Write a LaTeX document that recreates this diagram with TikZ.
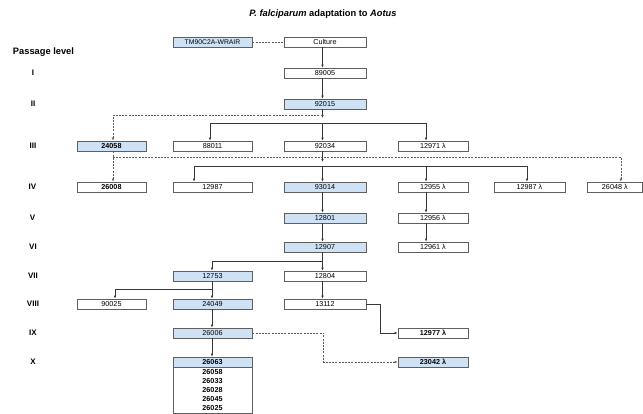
\documentclass[tikz,border=0pt]{standalone}
\usepackage{fontspec}
\setmainfont{Liberation Sans}
\usetikzlibrary{arrows.meta}
\definecolor{lblue}{RGB}{207,226,245}
\definecolor{bord}{RGB}{95,95,95}
\definecolor{ln}{RGB}{55,55,55}
\definecolor{dln}{RGB}{90,90,90}
\begin{document}
\begin{tikzpicture}[x=1pt,y=-1pt,
 pbox/.style={draw=bord, line width=0.7pt, minimum width=#1, minimum height=10pt, inner sep=0pt, font=\fontsize{7.2}{8}\selectfont, anchor=center},
 bl/.style={fill=lblue},
 bd/.style={font=\fontsize{7.2}{8}\selectfont\bfseries},
 conn/.style={draw=ln, line width=0.6pt},
 tip/.style={-{Latex[length=3pt,width=2.6pt]}},
 arr/.style={conn, tip},
 dsh/.style={conn, draw=dln, dash pattern=on 2pt off 1.2pt},
 lvl/.style={font=\fontsize{8}{9}\selectfont\bfseries},
 stk/.style={font=\fontsize{7.2}{8}\selectfont\bfseries, inner sep=0pt}
]
\useasboundingbox (0,0) rectangle (643,414);
% title and level labels
\node (title) at (323,14) {\fontsize{9.3}{11}\selectfont\bfseries\itshape P. falciparum\upshape{} adaptation to \itshape Aotus};
\node[font=\fontsize{9.3}{11}\selectfont\bfseries] (plevel) at (43.5,52.5) {Passage level};
\node[lvl] (l1) at (33,73) {I};
\node[lvl] (l2) at (33,104) {II};
\node[lvl] (l3) at (33,146) {III};
\node[lvl] (l4) at (32.5,187) {IV};
\node[lvl] (l5) at (32.5,218) {V};
\node[lvl] (l6) at (33,247) {VI};
\node[lvl] (l7) at (33,276) {VII};
\node[lvl] (l8) at (33,304) {VIII};
\node[lvl] (l9) at (33,333) {IX};
\node[lvl] (l10) at (33,362) {X};
% boxes
\node[pbox=79pt,bl,font=\fontsize{6.8}{8}\selectfont] (tm) at (212.5,42) {TM90C2A-WRAIR};
\node[pbox=82pt] (cult) at (325,42) {Culture};
\node[pbox=82pt] (n89005) at (325,73) {89005};
\node[pbox=82pt,bl] (n92015) at (325,104) {92015};
\node[pbox=69pt,bl,bd] (n24058) at (111.5,146) {24058};
\node[pbox=79pt] (n88011) at (212.5,146) {88011};
\node[pbox=82pt] (n92034) at (325,146) {92034};
\node[pbox=70pt] (n12971) at (433,146) {12971 λ};
\node[pbox=69pt,bd] (n26008) at (111.5,187) {26008};
\node[pbox=79pt] (n12987) at (212.5,187) {12987};
\node[pbox=82pt,bl] (n93014) at (325,187) {93014};
\node[pbox=70pt] (n12955) at (433,187) {12955 λ};
\node[pbox=71pt] (n12987l) at (529.5,187) {12987 λ};
\node[pbox=55pt] (n26048) at (614.8,187) {26048 λ};
\node[pbox=82pt,bl] (n12801) at (325,218) {12801};
\node[pbox=70pt] (n12956) at (433,218) {12956 λ};
\node[pbox=82pt,bl] (n12907) at (325,247) {12907};
\node[pbox=70pt] (n12961) at (433,247) {12961 λ};
\node[pbox=79pt,bl] (n12753) at (212.5,276) {12753};
\node[pbox=82pt] (n12804) at (325,276) {12804};
\node[pbox=69pt] (n90025) at (111.5,304) {90025};
\node[pbox=79pt,bl] (n24049) at (212.5,304) {24049};
\node[pbox=82pt] (n13112) at (325,304) {13112};
\node[pbox=79pt,bl] (n26006) at (212.5,333) {26006};
\node[pbox=70pt,bd] (n12977) at (433,333) {12977 λ};
\node[pbox=70pt,bl,bd] (n23042) at (433,362) {23042 λ};
% stacked box of passage X
\node[pbox=79pt,bl,bd] (n26063) at (212.5,362) {26063};
\node[draw=bord, line width=0.7pt, anchor=north, minimum width=79pt, minimum height=45.5pt, inner sep=0pt] (stack) at (n26063.south) {};
\node[stk] (s1) at (212.5,372.5) {26058};
\node[stk] (s2) at (212.5,381.5) {26033};
\node[stk] (s3) at (212.5,390.5) {26028};
\node[stk] (s4) at (212.5,399.5) {26045};
\node[stk] (s5) at (212.5,408.5) {26025};
% junction coordinates
\coordinate (j2) at (322.5,118);
\coordinate (d2) at (322.5,115);
\coordinate (h2) at (322.5,123);
\coordinate (j3) at (322.5,162);
\coordinate (d3) at (113,157);
\coordinate (h3) at (322.5,166);
\coordinate (h6) at (322.5,261);
\coordinate (h7) at (212,289);
% connectors
\draw[dsh] (tm) -- (cult);
\draw[arr] ([xshift=-2.5pt]cult.south) -- ([xshift=-2.5pt]n89005.north);
\draw[arr] ([xshift=-2.5pt]n89005.south) -- ([xshift=-2.5pt]n92015.north);
\draw[arr] ([xshift=-2.5pt]n92015.south) -- (j2);
\draw[dsh,tip] (d2) -| ([xshift=1.5pt]n24058.north);
\draw[arr] (h2) -| ([xshift=-2.5pt]n88011.north);
\draw[arr] (h2) -| ([xshift=-7pt]n12971.north);
\draw[arr] (h2) -- ([xshift=-2.5pt]n92034.north);
\draw[arr] ([xshift=-2.5pt]n92034.south) -- (j3);
\draw[dsh,tip] ([xshift=1.5pt]n24058.south) -- ([xshift=1.5pt]n26008.north);
\draw[dsh,tip] (d3) -| ([xshift=6pt]n26048.north);
\draw[arr] (h3) -| ([xshift=-18.5pt]n12987.north);
\draw[arr] (h3) -| ([xshift=-7pt]n12955.north);
\draw[arr] (h3) -| ([xshift=-2.5pt]n12987l.north);
\draw[arr] (h3) -- ([xshift=-2.5pt]n93014.north);
\draw[arr] ([xshift=-2.5pt]n93014.south) -- ([xshift=-2.5pt]n12801.north);
\draw[arr] ([xshift=-2.5pt]n12801.south) -- ([xshift=-2.5pt]n12907.north);
\draw[arr] ([xshift=-7pt]n12955.south) -- ([xshift=-7pt]n12956.north);
\draw[arr] ([xshift=-7pt]n12956.south) -- ([xshift=-7pt]n12961.north);
\draw[arr] ([xshift=-2.5pt]n12907.south) -- ([xshift=-2.5pt]n12804.north);
\draw[arr] (h6) -| ([xshift=-0.5pt]n12753.north);
\draw[arr] ([xshift=-0.5pt]n12753.south) -- ([xshift=-0.5pt]n24049.north);
\draw[arr] (h7) -| ([xshift=3.5pt]n90025.north);
\draw[arr] ([xshift=-2.5pt]n12804.south) -- ([xshift=-2.5pt]n13112.north);
\draw[arr] (n13112.east) -- ++(14,0) |- (n12977.west);
\draw[arr] ([xshift=-0.5pt]n24049.south) -- ([xshift=-0.5pt]n26006.north);
\draw[arr] ([xshift=-0.5pt]n26006.south) -- ([xshift=-0.5pt]n26063.north);
\draw[dsh,tip] (n26006.east) -| ([xshift=-74pt]n23042.west) -- (n23042.west);
\end{tikzpicture}
\end{document}
